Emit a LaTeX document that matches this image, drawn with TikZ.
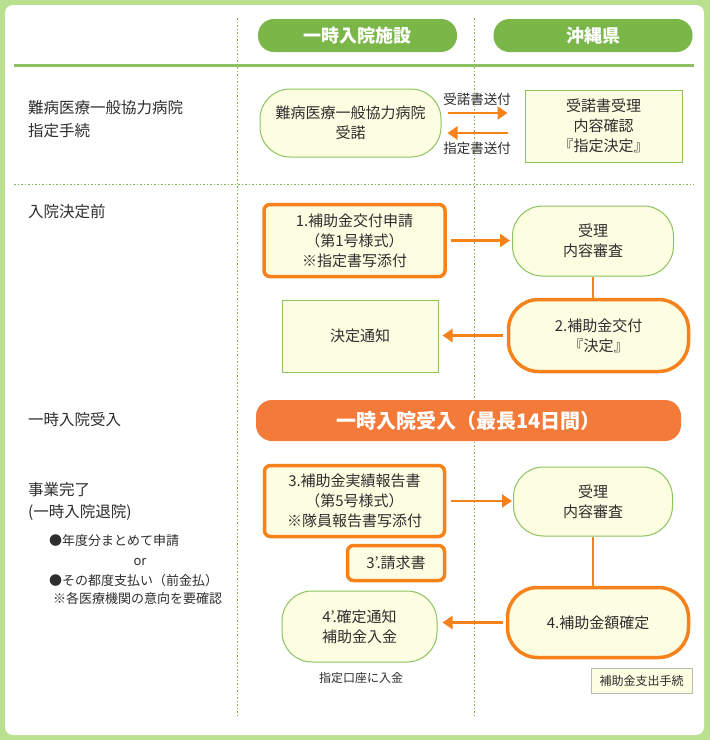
\documentclass[tikz,border=0pt]{standalone}
\usepackage{fontspec}
\setmainfont{Noto Sans CJK JP}
\usetikzlibrary{arrows.meta}

\definecolor{flowGreen}{HTML}{7AB648}
\definecolor{flowLeaf}{HTML}{B9E08E}
\definecolor{flowLine}{HTML}{8CC460}
\definecolor{flowOrange}{HTML}{F7821B}
\definecolor{flowBanner}{HTML}{F47A3A}
\definecolor{flowCream}{HTML}{FDFDE2}
\definecolor{flowGray}{HTML}{B8BDB4}
\definecolor{flowText}{HTML}{2E2E2E}

\begin{document}
\begin{tikzpicture}[x=1pt,y=-1pt,font=\fontsize{15}{20}\selectfont,text=flowText,
  head/.style={fill=flowGreen,rounded corners=16pt,minimum width=199pt,minimum height=33pt,
    text=white,font=\fontsize{18}{20}\selectfont\bfseries,inner sep=0pt},
  rowlabel/.style={anchor=west,align=left,inner sep=0pt,font=\fontsize{15.5}{23}\selectfont},
  note/.style={anchor=west,inner sep=0pt,font=\fontsize{13}{16}\selectfont},
  pill/.style={draw=flowLine,line width=1pt,fill=flowCream,rounded corners=30pt,align=center,inner sep=0pt},
  decision/.style={pill,draw=flowOrange,line width=3.5pt},
  sheet/.style={draw=flowLine,line width=1pt,fill=flowCream,align=center,inner sep=0pt},
  form/.style={sheet,draw=flowOrange,line width=3.5pt,rounded corners=6pt},
  flow/.style={draw=flowOrange,line width=2.5pt,-{Triangle[length=10pt,width=13pt]}},
  link/.style={draw=flowOrange,line width=2.5pt}]
  % frame and grid
  \fill[flowLeaf] (0,0) rectangle (710,740);
  \fill[white,rounded corners=8pt] (5,5) rectangle (704,735);
  \useasboundingbox (0,0) rectangle (710,740);
  \draw[flowGreen!85,line width=3pt] (14,65) -- (694,65);
  \draw[flowGreen,line width=1pt,dash pattern=on 1.5pt off 2pt] (14,184) -- (694,184);
  \foreach \x in {237,474}
    \draw[flowGreen,line width=1pt,dash pattern=on 1.5pt off 2pt] (\x,18) -- (\x,718);

  \node[head] (facility) at (357.5,35.5) {一時入院施設};
  \node[head] (pref) at (593,35.5) {沖縄県};

  % designation
  \node[rowlabel] (rowA) at (28,119.5) {難病医療一般協力病院\\指定手続};
  \node[pill,minimum width=181pt,minimum height=68pt] (accept) at (350.5,123) {難病医療一般協力病院\\受諾};
  \node[sheet,minimum width=157pt,minimum height=72pt] (designate) at (603.5,126) {受諾書受理\\内容確認\\『指定決定』};
  \draw[flow,shorten <=6pt,shorten >=17pt] ([yshift=10pt]accept.east) -- ([yshift=10pt]accept.east -| designate.west)
    node[pos=0.43,above=6pt,note,anchor=south,font=\fontsize{13.5}{16}\selectfont] (sendA) {受諾書送付};
  \draw[flow,shorten <=17pt,shorten >=6pt] ([yshift=-10pt]accept.east -| designate.west) -- ([yshift=-10pt]accept.east)
    node[pos=0.57,below=8pt,note,anchor=north,font=\fontsize{13.5}{16}\selectfont] (sendB) {指定書送付};

  % before admission
  \node[rowlabel] (rowB) at (28,212) {入院決定前};
  \node[form,minimum width=181pt,minimum height=72pt] (apply) at (354.5,240.5) {1.補助金交付申請\\（第1号様式）\\※指定書写添付};
  \node[pill,minimum width=161pt,minimum height=70pt] (review) at (593,241) {受理\\内容審査};
  \draw[flow,shorten <=4pt,shorten >=2pt] (apply.east) -- (apply.east -| review.west);
  \node[decision,minimum width=180pt,minimum height=72pt] (grant) at (598.5,335.5) {2.補助金交付\\『決定』};
  \draw[link] (review.south) -- (review.south |- grant.north);
  \node[sheet,minimum width=156pt,minimum height=72pt] (notice) at (360,336) {決定通知};
  \draw[flow,shorten <=4pt,shorten >=4pt] (grant.west) -- (grant.west -| notice.east);

  % admission
  \node[rowlabel] (rowC) at (28,420) {一時入院受入};
  \node[fill=flowBanner,rounded corners=16pt,minimum width=425pt,minimum height=41pt,text=white,
    font=\fontsize{20}{22}\selectfont\bfseries] (stay) at (468.5,420.5) {一時入院受入（最長14日間）};

  % completion
  \node[rowlabel,font=\fontsize{15.5}{22}\selectfont] (rowD) at (28,501) {事業完了\\(一時入院退院)};
  \node[note] (bulletA) at (49,541) {●年度分まとめて申請};
  \node[note,anchor=center] (orword) at (140,562) {or};
  \node[note] (bulletB) at (49,581) {●その都度支払い（前金払）};
  \node[note] (caution) at (53,599) {※各医療機関の意向を要確認};
  \node[form,minimum width=180pt,minimum height=71pt] (report) at (354.5,501) {3.補助金実績報告書\\（第5号様式）\\※隊員報告書写添付};
  \node[pill,minimum width=159pt,minimum height=69pt] (review2) at (593,501.5) {受理\\内容審査};
  \draw[flow,shorten <=5pt,shorten >=1pt] (report.east) -- (report.east -| review2.west);
  \node[form,minimum width=97pt,minimum height=35pt] (invoice) at (396,563) {3’.請求書};
  \node[decision,minimum width=181pt,minimum height=70pt] (settle) at (598,622.5) {4.補助金額確定};
  \draw[link] (review2.south) -- (review2.south |- settle.north);
  \node[pill,minimum width=155pt,minimum height=71pt] (paid) at (359.5,626.5) {4’.確定通知\\補助金入金};
  \draw[flow,shorten <=3pt,shorten >=5pt] (settle.west) -- (settle.west -| paid.east);
  \node[note,anchor=center,font=\fontsize{12}{14}\selectfont] (account) at (361,678) {指定口座に入金};
  \node[sheet,draw=flowGray,minimum width=101pt,minimum height=25pt,font=\fontsize{12}{14}\selectfont] (expense) at (641.5,680.5) {補助金支出手続};
\end{tikzpicture}
\end{document}
